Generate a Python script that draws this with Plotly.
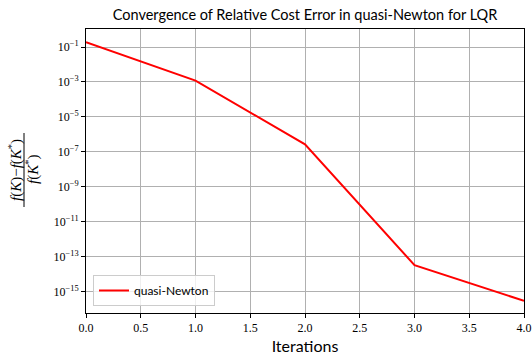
import plotly.graph_objects as go

iterations = [0, 1, 2, 3, 4]
rel_error = [1.9e-1, 1.2e-3, 2.7e-7, 3.3e-14, 3.0e-16]
series_name = "quasi-Newton"
ytick_exp = [-1, -3, -5, -7, -9, -11, -13, -15]
xtick_vals = [0, 0.5, 1, 1.5, 2, 2.5, 3, 3.5, 4]

serif = "'Liberation Serif', 'DejaVu Serif', serif"
sans = "Lato"

L, R, T, B = 86, 524, 29, 313
W, H = R - L, B - T


def px(x):
    return (x - L) / W


def py(y):
    return (B - y) / H


fig = go.Figure()
fig.add_trace(go.Scatter(x=iterations, y=rel_error, mode="lines", name=series_name,
                         line=dict(color="red", width=2)))

fig.update_layout(
    width=532, height=355,
    margin=dict(l=L, r=532 - R, t=T, b=355 - B, autoexpand=False),
    paper_bgcolor="white", plot_bgcolor="white",
    title=dict(text="Convergence of Relative Cost Error in quasi-Newton for LQR",
               x=(L + R) / 2 / 532, xanchor="center", y=1 - 15 / 355, yanchor="middle",
               font=dict(family=sans, size=14.5, color="black")),
    showlegend=True,
    legend=dict(x=px(93), y=py(306), xanchor="left", yanchor="bottom",
                bordercolor="#cccccc", borderwidth=1, bgcolor="rgba(255,255,255,0.8)",
                font=dict(family=sans, size=12, color="black")),
    xaxis=dict(range=[0, 4], tickvals=xtick_vals, tickformat=".1f", automargin=False,
               ticklabeloverflow="allow",
               showgrid=True, gridcolor="#b0b0b0", gridwidth=1,
               showline=True, linecolor="black", linewidth=1, mirror=True,
               ticks="outside", ticklen=4, tickcolor="black",
               tickfont=dict(family=serif, size=12, color="black"),
               zeroline=False,
               title=dict(text="Iterations", font=dict(family=sans, size=16, color="black"), standoff=6)),
    yaxis=dict(type="log", range=[-16.22, 0.03], automargin=False,
               ticklabeloverflow="allow",
               tickvals=[10.0 ** e for e in ytick_exp],
               ticktext=["10<sup>\u2212%d</sup>" % (-e) for e in ytick_exp],
               showgrid=True, gridcolor="#b0b0b0", gridwidth=1,
               showline=True, linecolor="black", linewidth=1, mirror=True,
               ticks="outside", ticklen=4, tickcolor="black",
               tickfont=dict(family=serif, size=12, color="black"),
               zeroline=False),
)

fig.add_annotation(
    text="<i>f</i>(<i>K</i>)\u2212<i>f</i>(<i>K</i><sup>*</sup>)",
    xref="paper", yref="paper", x=px(15), y=py(170), xanchor="center", yanchor="middle",
    textangle=-90, showarrow=False,
    font=dict(family=serif, size=15, color="black"))
fig.add_annotation(
    text="<i>f</i>(<i>K</i><sup>*</sup>)",
    xref="paper", yref="paper", x=px(32), y=py(170), xanchor="center", yanchor="middle",
    textangle=-90, showarrow=False,
    font=dict(family=serif, size=15, color="black"))
fig.add_shape(type="line", xref="paper", yref="paper",
              x0=px(24), x1=px(24), y0=py(133), y1=py(207),
              line=dict(color="black", width=1))

fig.write_html("out.html")
